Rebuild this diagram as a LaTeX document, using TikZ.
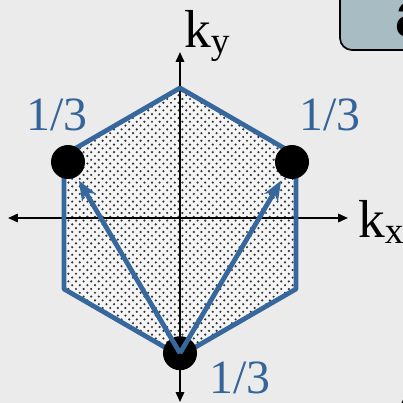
\documentclass[tikz,border=0pt]{standalone}
\usepackage{fontspec}
\setmainfont{Liberation Serif}
\newfontfamily\panelfont{Liberation Sans}
\usetikzlibrary{arrows.meta,patterns.meta}
\definecolor{bggray}{RGB}{235,235,235}
\definecolor{hexblue}{RGB}{54,104,158}
\definecolor{txtblue}{RGB}{52,100,152}
\definecolor{panelfill}{RGB}{168,188,196}

% staggered dots for the zone
\tikzdeclarepattern{
  name=zonedots,
  type=uncolored,
  bottom left={(-0.05cm,-0.05cm)},
  top right={(0.145cm,0.145cm)},
  tile size={(0.19cm,0.19cm)},
  code={
    \fill (0,0) circle (0.03cm);
    \fill (0.095cm,0.095cm) circle (0.03cm);
  }
}

\begin{document}
\begin{tikzpicture}[line join=round,
    axisline/.style={line width=1.2pt, {Triangle[length=7pt,width=6pt]}-{Triangle[length=7pt,width=6pt]}},
    kvec/.style={hexblue, line width=3.4pt, -{Stealth[length=14pt,width=11pt,inset=4pt]}, shorten >=3pt},
    corner/.style={circle, fill=black, inner sep=0pt, minimum size=0.85cm},
    frac/.style={txtblue, font=\fontsize{34}{36}\selectfont},
    klabel/.style={font=\fontsize{38}{40}\selectfont, inner sep=0pt, anchor=base west}]

    % Page size and gray background
    \useasboundingbox (-4.5,-4.625) rectangle (5.575,5.45);
    \clip (-4.5,-4.625) rectangle (5.575,5.45);
    \fill[bggray] (-4.5,-4.625) rectangle (5.575,5.45);

    % Panel tab at the top right, cut off by the border
    \draw[line width=1.2pt, fill=panelfill, rounded corners=0.3cm] (4.0,6.0) rectangle (6.5,4.2);
    \node[anchor=base west, inner sep=0pt, font=\panelfont\bfseries\fontsize{46}{48}\selectfont] (tab) at (5.38,4.53) {a};

    % Hexagon, dotted inside
    \fill[white!96!black] (0,3.25) -- (2.9,1.575) -- (2.9,-1.775) -- (0,-3.45)
        -- (-2.9,-1.775) -- (-2.9,1.575) -- cycle;
    \fill[pattern=zonedots, pattern color=black!80] (0,3.25) -- (2.9,1.575) -- (2.9,-1.775) -- (0,-3.45)
        -- (-2.9,-1.775) -- (-2.9,1.575) -- cycle;

    % Axes, arrows at both ends
    \coordinate (xl) at (-4.3,0);
    \coordinate (xr) at (4.2,0);
    \coordinate (yb) at (0,-4.6);
    \coordinate (yt) at (0,4.15);
    \draw[axisline] (xl) -- (xr);
    \draw[axisline] (yb) -- (yt);

    % Outline on top of the axes
    \draw[hexblue, line width=3.4pt] (0,3.25) -- (2.9,1.575) -- (2.9,-1.775) -- (0,-3.45)
        -- (-2.9,-1.775) -- (-2.9,1.575) -- cycle;

    % The three corner points
    \node[corner] (kl) at (-2.8,1.4) {};
    \node[corner] (kr) at (2.8,1.4) {};
    \node[corner] (kb) at (0,-3.38) {};

    % Vectors from the bottom point
    \draw[kvec] (kb.center) -- (kl);
    \draw[kvec] (kb.center) -- (kr);

    % Labels
    \node[frac] (fl) at (-3.075,2.575) {1/3};
    \node[frac] (fr) at (3.75,2.575) {1/3};
    \node[frac] (fb) at (1.5,-4.0) {1/3};
    \node[klabel] (ky) at (0.1,4.25) {k\textsubscript{y}};
    \node[klabel] (kx) at (4.45,-0.5) {k\textsubscript{x}};

    % Edge of the next panel at the corner
    \draw[line width=1.2pt] (5.66,-4.3) to[bend left=10] (5.52,-4.7);

\end{tikzpicture}
\end{document}
